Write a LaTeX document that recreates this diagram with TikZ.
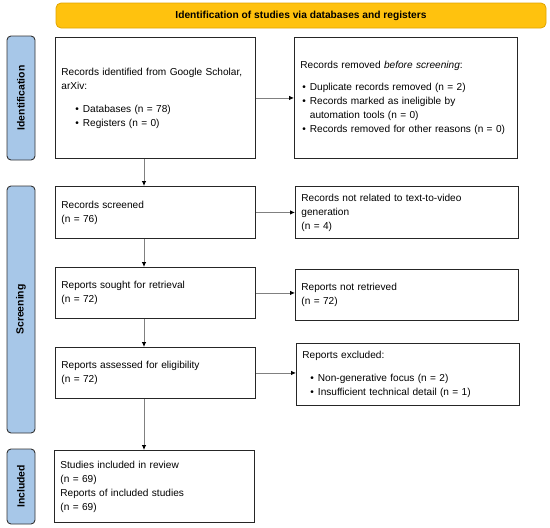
\documentclass[tikz,border=0pt]{standalone}
\usepackage{fontspec}
\setmainfont{Liberation Sans}
\usepackage{xcolor}
\usetikzlibrary{arrows.meta}
\usetikzlibrary{positioning, calc}

\newcommand{\pbul}[2]{\hspace*{#1}\makebox[7.5pt][l]{\textbullet}#2}

\begin{document}
\begin{tikzpicture}[x=1pt,y=-1pt]
  \definecolor{barcol}{HTML}{FFC20E}
  \definecolor{barline}{HTML}{E0A400}
  \definecolor{phasecol}{HTML}{A7C7E8}
  \tikzstyle{box}=[draw=black!85,line width=0.9pt,anchor=north west,align=left,inner xsep=6pt,inner ysep=3pt,font=\fontsize{10.1}{14}\selectfont]
  \tikzstyle{phase}=[draw=black!80,fill=phasecol,line width=0.9pt,rounded corners=4pt,rotate=90,minimum height=28pt,inner sep=0pt,font=\fontsize{10.4}{14}\selectfont\bfseries]
  \tikzstyle{titlebar}=[draw=barline,fill=barcol,line width=0.8pt,rounded corners=5pt,inner sep=0pt,font=\fontsize{10.2}{14}\selectfont\bfseries]
  \tikzstyle{flow}=[draw=gray,line width=0.8pt,-{Latex[black,length=5pt,width=4.5pt]}]

  \def\L{55}
  \def\R{295}
  \def\tl{188pt}
  \def\tr{211pt}

  \useasboundingbox (0,0) rectangle (550,528);

  % HEADER
  \node[titlebar,minimum width=490pt,minimum height=25pt] (title) at (301,15.5)
  {Identification of studies via databases and registers};

  % PHASES
  \node[phase,minimum width=124pt] (idphase) at (21,98) {Identification};
  \node[phase,minimum width=247pt] (scphase) at (21,309.5) {Screening};
  \node[phase,minimum width=75pt] (inphase) at (21,486.5) {Included};

  % LEFT COLUMN
  \node[box,text width=\tl,minimum height=121pt] (ident) at (\L,37)
  {Records identified from Google Scholar,\\arXiv:\\[9pt]
    \pbul{14pt}{Databases (n = 78)}\\
    \pbul{14pt}{Registers (n = 0)}};
  \node[box,text width=\tl,minimum height=52pt] (screen) at (\L,186)
  {Records screened\\(n = 76)};
  \node[box,text width=\tl,minimum height=51pt] (sought) at (\L,267)
  {Reports sought for retrieval\\(n = 72)};
  \node[box,text width=\tl,minimum height=51pt] (assess) at (\L,347)
  {Reports assessed for eligibility\\(n = 72)};
  \node[box,text width=\tl,minimum height=72pt] (incl) at (\L-1,450)
  {Studies included in review\\(n = 69)\\Reports of included studies\\(n = 69)};

  % RIGHT COLUMN
  \node[box,text width=\tr,minimum height=121pt] (removed) at (\R-1,37)
  {Records removed \textit{before screening}:\\[8pt]
    \pbul{2pt}{Duplicate records removed (n = 2)}\\
    \pbul{2pt}{Records marked as ineligible by}\\
    \hspace*{9.5pt}automation tools (n = 0)\\
    \pbul{2pt}{Records removed for other reasons (n = 0)}};
  \node[box,text width=\tr,minimum height=52pt] (notrel) at (\R,186)
  {Records not related to text-to-video\\generation\\(n = 4)};
  \node[box,text width=\tr,minimum height=51pt] (notret) at (\R,269)
  {Reports not retrieved\\(n = 72)};
  \node[box,text width=\tr,minimum height=62pt] (excl) at (\R+1,343)
  {Reports excluded:\\[9pt]
    \pbul{8pt}{Non-generative focus (n = 2)}\\
    \pbul{8pt}{Insufficient technical detail (n = 1)}};

  % ARROWS
  \coordinate (spine) at (144,0);
  \draw[flow] (ident.south -| spine) -- (screen.north -| spine);
  \draw[flow] (screen.south -| spine) -- (sought.north -| spine);
  \draw[flow] (sought.south -| spine) -- (assess.north -| spine);
  \draw[flow] (assess.south -| spine) -- (incl.north -| spine);
  \foreach \a/\b in {ident/removed,screen/notrel,sought/notret,assess/excl}{
      \draw[flow] (\a.east) -- (\a.east -| \b.west);
    }
\end{tikzpicture}
\end{document}
